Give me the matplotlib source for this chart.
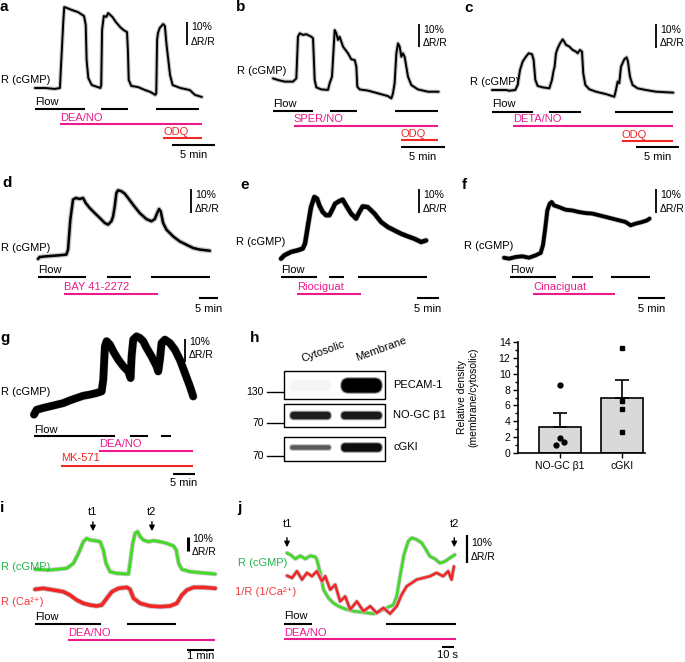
import matplotlib.pyplot as plt
from matplotlib.patches import Rectangle, FancyBboxPatch
import numpy as np

W, H = 685, 662
PINK = '#ec1a8d'
RED = '#f22626'
GREEN = '#3fdc22'
GREEN_TEXT = '#24b34b'
RED_TEXT = '#f03c3c'
HALO = '#c4c4c4'

plt.rcParams['font.family'] = ['Liberation Sans', 'DejaVu Sans']
plt.rcParams['font.size'] = 8

# ---- traces (time in min, j in s; signal in % dR/R) ----
a_t = [0, 1.2, 2.3, 2.9, 3.0, 3.3, 3.4, 3.7, 4.3, 5.0, 5.7, 5.9, 6.0, 6.2, 6.6, 7.6, 7.7, 7.8, 8.0, 8.3,
       8.5, 9.0, 9.4, 9.9, 10.3, 10.7, 10.8, 10.9, 11.2, 12.0, 12.8, 13.4, 14.0, 14.1, 14.2, 14.3, 14.5,
       14.9, 15.1, 15.3, 15.7, 16.0, 16.9, 17.4, 18.0, 18.6, 19.4]
a_v = [0, 0, -0.4, 0, 7.8, 29.6, 35.2, 34.8, 33.9, 33.0, 31.3, 27.4, 12.2, 4.3, 1.3, 0, 1.3, 25.2, 31.3,
       30.9, 32.6, 30.9, 28.7, 26.5, 25.2, 24.3, 16.5, 3.5, 0.9, 0.4, -0.9, -1.7, -3.0, -2.2, 20.9, 23.9,
       26.1, 27.8, 27.0, 18.7, 5.7, 1.3, 0, -0.4, -0.9, -3.0, -3.9]
a_flow = [(0, 5.8), (7.7, 10.8), (14.1, 19.1)]
a_deano = (2.9, 19.4)
a_odq = (14.9, 19.4)

b_t = [0, 0.57, 1.34, 2.30, 2.68, 2.87, 3.07, 3.45, 3.83, 4.41, 4.60, 4.79, 4.98, 5.56, 6.32, 6.51, 6.78,
       7.09, 7.28, 7.47, 7.66, 8.05, 8.62, 9.00, 9.39, 9.58, 9.69, 9.96, 10.92, 12.07, 13.22, 13.60, 13.79,
       13.98, 14.18, 14.37, 14.56, 14.75, 14.94, 15.13, 15.52, 15.90, 16.67, 17.82, 19.04]
b_v = [0.7, 0, -0.7, -0.7, 0.7, 18.8, 20.3, 19.6, 19.9, 18.8, 18.1, 0, -3.2, -4.1, -4.3, -1.4, 1.4, 21.7,
       20.3, 17.4, 18.8, 14.5, 11.6, 9.0, 8.7, 5.8, -2.9, -4.1, -4.6, -5.8, -7.0, -8.0, -5.8, -1.4, 11.6,
       15.9, 14.5, 10.1, 11.6, 10.1, 1.4, -2.2, -4.1, -5.1, -5.1]
b_flow = [(0, 4.6), (6.5, 9.6), (14.0, 19.0)]
b_sperno = (2.38, 19.0)
b_odq = (14.7, 19.0)

c_t = [0, 1.64, 2.03, 2.73, 3.01, 3.28, 3.59, 3.98, 4.30, 4.69, 4.88, 5.08, 5.35, 5.94, 6.72, 7.03, 7.19,
       7.34, 7.50, 7.70, 7.97, 8.28, 8.48, 8.67, 9.06, 9.45, 9.84, 10.04, 10.31, 10.55, 10.70, 10.94, 11.41,
       12.19, 13.36, 14.34, 14.53, 14.73, 14.92, 15.12, 15.51, 15.78, 15.94, 16.17, 16.48, 17.07, 18.05,
       19.22, 21.25]
c_v = [0, 0, -0.3, 0, 2.1, 8.3, 11.8, 13.9, 15.3, 14.9, 12.5, 4.2, 1.7, 1.1, 0.7, 4.2, 7.6, 9.7, 15.3, 17.4,
       19.4, 21.1, 20.1, 18.8, 18.1, 16.7, 16.0, 15.3, 16.7, 16.0, 6.9, 2.1, 0.3, -0.7, -1.7, -2.8, 0, 3.5,
       2.8, 9.7, 12.8, 13.6, 11.8, 5.6, 2.1, 0.7, 0, -0.7, -1.1]
c_flow = [(0, 4.84), (6.72, 10.43), (14.45, 21.25)]
c_detano = (2.5, 21.25)
c_odq = (15.23, 21.25)

d_t = [0, 0.43, 2.16, 4.74, 7.33, 7.76, 8.36, 9.05, 9.74, 10.78, 11.64, 12.33, 13.36, 14.66, 15.95, 17.24,
       18.10, 18.97, 19.40, 19.83, 20.26, 20.69, 21.55, 22.41, 23.28, 24.57, 26.29, 28.02, 29.31, 30.17,
       30.78, 31.29, 31.72, 32.33, 33.19, 34.91, 36.64, 38.36, 40.09, 41.81, 44.40]
d_v = [-0.8, 0, 0.3, 0.6, 1.0, 3.1, 15.6, 23.9, 24.6, 24.2, 24.6, 22.5, 20.4, 18.3, 16.3, 14.2, 13.5, 14.9,
       16.9, 21.1, 26.7, 27.8, 27.4, 26.4, 24.6, 21.8, 18.3, 15.8, 14.9, 15.8, 18.3, 20.0, 19.0, 14.2, 11.4,
       8.6, 6.5, 5.1, 3.75, 3.1, 2.6]
d_flow = [(0, 12.33), (17.84, 23.97), (29.31, 44.57)]
d_bay = (6.64, 31.03)

e_t = [0, 0.78, 2.34, 3.91, 5.08, 5.63, 6.25, 7.03, 7.81, 8.44, 8.98, 9.77, 10.55, 11.33, 12.11, 12.66,
       13.67, 14.45, 15.23, 16.41, 17.58, 18.36, 19.14, 20.31, 21.88, 23.44, 25.0, 26.56, 28.13, 29.69,
       31.25, 32.81, 33.98]
e_v = [-0.7, 0.7, 2.1, 2.8, 3.5, 5.6, 12.5, 20.8, 25.0, 24.3, 21.5, 18.75, 17.4, 17.4, 20.1, 22.2, 23.3,
       23.9, 21.5, 18.1, 16.0, 18.75, 21.1, 20.8, 18.1, 14.6, 12.5, 11.1, 9.7, 8.6, 7.6, 6.25, 6.9]
e_flow = [(0, 8.44), (11.33, 14.84), (17.97, 34.14)]
e_rio = (3.75, 18.75)

f_t = [0, 0.94, 2.19, 3.44, 4.69, 5.94, 6.88, 7.31, 7.69, 8.13, 8.56, 8.94, 9.38, 10.31, 11.56, 12.81,
       14.06, 15.31, 16.56, 17.81, 19.06, 20.31, 21.56, 22.81, 23.75, 24.69, 25.94, 26.88, 27.31]
f_v = [-0.3, -0.7, 0, 0.3, -0.3, 0.7, 1.7, 4.9, 11.1, 19.4, 22.2, 22.9, 21.5, 20.8, 19.7, 19.4, 18.75,
       18.3, 18.1, 17.4, 16.7, 16.0, 15.3, 14.6, 13.2, 13.9, 14.6, 15.3, 16.0]
f_flow = [(1.06, 9.81), (12.81, 16.75), (20.0, 27.38)]
f_cina = (5.44, 20.75)

g_t = [0, 0.62, 2.15, 3.69, 5.23, 6.77, 8.31, 9.85, 11.38, 12.92, 14.46, 15.62, 16.0, 16.38, 16.77, 17.54,
       18.31, 19.46, 20.62, 21.77, 22.31, 22.54, 22.92, 23.69, 24.46, 25.23, 26.0, 27.15, 28.31, 28.69,
       29.08, 29.46, 30.23, 31.38, 32.54, 33.69, 34.85, 36.0, 36.77]
g_v = [-0.7, 1.4, 2.2, 2.9, 3.6, 4.3, 5.5, 6.5, 7.5, 8.0, 8.7, 9.4, 14.5, 29.0, 31.2, 29.7, 26.8, 23.2,
       20.3, 18.1, 15.2, 24.6, 31.9, 33.3, 32.6, 31.2, 28.3, 24.6, 20.3, 18.1, 23.2, 30.4, 31.9, 30.4,
       27.5, 23.2, 17.4, 11.6, 7.2]
g_flow = [(0, 18.69), (22.15, 26.38), (29.23, 31.54)]
g_deano = (15.08, 36.77)
g_mk = (6.15, 36.77)

i_gt = [0, 0.56, 1.19, 1.44, 1.63, 1.81, 1.94, 2.06, 2.25, 2.44, 2.56, 2.66, 2.81, 3.06, 3.5, 3.56, 3.66,
        3.75, 3.84, 3.94, 4.06, 4.25, 4.44, 4.69, 4.94, 5.19, 5.29, 5.38, 5.5, 5.81, 6.19, 6.75]
i_gv = [0.5, 0, 1.2, 4.8, 11.9, 20.2, 22.6, 21.4, 21.0, 20.2, 14.3, 4.8, -1.2, -2.4, -2.9, 4.8, 19.0, 26.2,
        27.4, 23.8, 21.4, 20.2, 21.0, 20.2, 19.0, 17.1, 14.3, 4.8, 0.5, -1.2, -1.9, -2.9]
i_rt = [0, 0.31, 0.69, 1.06, 1.31, 1.56, 1.81, 2.06, 2.31, 2.5, 2.69, 2.88, 3.13, 3.44, 3.56, 3.69, 3.94,
        4.31, 4.69, 5.06, 5.31, 5.5, 5.69, 5.94, 6.31, 6.75]
i_rv = [-13.8, -13.1, -14.3, -15.5, -17.9, -21.4, -23.8, -25.0, -25.7, -25.0, -20.2, -15.5, -13.1, -12.4,
        -13.8, -20.2, -23.8, -25.7, -26.2, -25.7, -23.8, -17.9, -14.3, -12.4, -12.4, -13.1]
i_flow = [(0, 2.46), (3.46, 5.29)]
i_deano = (1.25, 6.75)
i_marks = [2.17, 4.38]

j_gt = [0, 2.7, 6.8, 10.8, 14.9, 18.9, 23.0, 24.3, 27.0, 29.7, 33.8, 37.8, 41.9, 47.3, 54.1, 62.2, 70.3,
        75.7, 81.1, 86.5, 89.2, 91.9, 95.1, 98.6, 101.4, 105.4, 109.5, 112.2, 116.2, 120.3, 124.3, 128.4,
        132.4, 136.5]
j_gv = [0, -0.6, -2.1, -1.0, -2.1, -1.0, -1.4, -2.4, -7.1, -13.1, -16.1, -17.9, -19.0, -20.0, -20.8, -21.2,
        -21.7, -20.8, -19.6, -18.5, -15.5, -8.3, -0.6, 4.2, 5.4, 4.8, 3.6, 1.8, -1.2, -2.1, -3.6, -3.0,
        -1.8, -0.6]
j_rt = [0, 4.1, 8.1, 12.2, 16.2, 20.3, 24.3, 28.4, 31.1, 35.1, 39.2, 43.2, 47.3, 51.4, 56.8, 62.2, 67.6,
        73.0, 78.4, 83.8, 89.2, 93.2, 97.3, 101.4, 105.4, 110.8, 116.2, 121.6, 127.0, 131.1, 133.8, 135.7]
j_rv = [-8.1, -8.9, -6.5, -9.5, -7.1, -8.3, -6.5, -10.1, -8.3, -13.1, -11.3, -17.3, -15.5, -20.2, -17.3,
        -20.8, -19.0, -21.4, -19.6, -21.7, -19.0, -14.9, -11.9, -10.7, -9.5, -8.9, -8.3, -7.1, -8.3, -6.5,
        -9.5, -4.8]
j_flow = [(-2.2, 20.3), (80.5, 137.3)]
j_deano = (-2.2, 137.3)
j_marks = [0, 136]

# ---- blot and densitometry ----
blot_lanes = ['Cytosolic', 'Membrane']
blot_proteins = ['PECAM-1', 'NO-GC β1', 'cGKI']
blot_markers = ['130', '70', '70']
blot_intensity = [[0.04, 1.0], [0.88, 0.9], [0.65, 0.95]]
dens_labels = ['NO-GC β1', 'cGKI']
dens_nogc = [8.6, 1.9, 1.4, 1.0]
dens_cgki = [13.2, 6.6, 5.5, 2.6]

fig = plt.figure(figsize=(W / 100, H / 100), dpi=100)


def ftext(x, y, s, **kw):
    kw.setdefault('va', 'center')
    kw.setdefault('ha', 'left')
    fig.text(x / W, 1 - y / H, s, **kw)


def trace_axes(letter, lx, ly, x0, y0, ppx, ppy):
    # full-figure axes; data origin at pixel (x0, y0), ppx px per time unit, ppy px per %
    ftext(lx, ly, letter, fontsize=11, fontweight='bold')
    ax = fig.add_axes([0, 0, 1, 1])
    ax.set_xlim(-x0 / ppx, (W - x0) / ppx)
    ax.set_ylim(-(H - y0) / ppy, y0 / ppy)
    ax.axis('off')
    return ax


def row(ax, y):
    lo, hi = ax.get_ylim()
    return hi - y / H * (hi - lo)


def col(ax, x):
    lo, hi = ax.get_xlim()
    return lo + x / W * (hi - lo)


def plot_trace(ax, t, v, color='k', lw=1.4, halo=3.0):
    ax.plot(t, v, color=HALO, lw=halo, solid_joinstyle='round', solid_capstyle='round')
    ax.plot(t, v, color=color, lw=lw, solid_joinstyle='round', solid_capstyle='round')


def spans(ax, y, segs, color='k', label=None, ly=None):
    yy = row(ax, y)
    for s, e in segs:
        ax.plot([s, e], [yy, yy], color=color, lw=1.5, solid_capstyle='butt')
    if label:
        ax.text(segs[0][0], row(ax, ly), label, color=color, ha='left', va='center')


def vscale(ax, x, yb, ty1, ty2, lw=1.3):
    xx = col(ax, x)
    y0 = row(ax, yb)
    ax.plot([xx, xx], [y0, y0 + 10], color='k', lw=lw, solid_capstyle='butt')
    ftext(x + 4, ty1, '10%', fontsize=7.5)
    ftext(x + 4, ty2, 'ΔR/R', fontsize=7.5)


def hscale(ax, t0, length, y, label, ty):
    yy = row(ax, y)
    ax.plot([t0, t0 + length], [yy, yy], color='k', lw=1.5, solid_capstyle='butt')
    ax.text(t0 + length / 2, row(ax, ty), label, ha='center', va='center')


# a
ax = trace_axes('a', 0, 7, 35, 88, 8.6, 2.3)
plot_trace(ax, a_t, a_v)
ftext(1, 80, 'R (cGMP)')
vscale(ax, 187, 45, 27, 42)
spans(ax, 109, a_flow, label='Flow', ly=102)
spans(ax, 124, [a_deano], PINK, 'DEA/NO', 118)
spans(ax, 138, [a_odq], RED, 'ODQ', 132)
hscale(ax, 15.9, 5, 145, '5 min', 155)

# b
ax = trace_axes('b', 236, 7, 273, 80, 8.7, 2.3)
plot_trace(ax, b_t, b_v)
ftext(286, 71, 'R (cGMP)', ha='right')
vscale(ax, 419, 47, 30, 43)
spans(ax, 111, b_flow, label='Flow', ly=104)
spans(ax, 126, [b_sperno], PINK, 'SPER/NO', 119)
spans(ax, 140, [b_odq], RED, 'ODQ', 134)
hscale(ax, 14.75, 5, 147, '5 min', 157)

# c
ax = trace_axes('c', 464, 8, 492, 90, 8.53, 2.4)
plot_trace(ax, c_t, c_v)
ftext(519, 82, 'R (cGMP)', ha='right')
vscale(ax, 656, 48, 30, 43)
spans(ax, 112, c_flow, label='Flow', ly=104)
spans(ax, 126, [c_detano], PINK, 'DETA/NO', 119)
spans(ax, 141, [c_odq], RED, 'ODQ', 135)
hscale(ax, 16.88, 5, 147, '5 min', 157)

# d
ax = trace_axes('d', 2, 183, 38, 257, 3.87, 2.4)
plot_trace(ax, d_t, d_v, lw=1.8, halo=3.6)
ftext(1, 248, 'R (cGMP)')
vscale(ax, 191, 213, 195, 209)
spans(ax, 277, d_flow, label='Flow', ly=270)
spans(ax, 294, [d_bay], PINK, 'BAY 41-2272', 287)
hscale(ax, 41.6, 5, 298, '5 min', 309)

# e
ax = trace_axes('e', 240, 185, 281, 257, 4.27, 2.4)
plot_trace(ax, e_t, e_v, lw=3.2, halo=4.2)
ftext(285, 242, 'R (cGMP)', ha='right')
vscale(ax, 419, 213, 195, 209)
spans(ax, 277, e_flow, label='Flow', ly=270)
spans(ax, 294, [e_rio], PINK, 'Riociguat', 287)
hscale(ax, 31.9, 5, 298, '5 min', 309)

# f
ax = trace_axes('f', 462, 185, 504, 257, 5.33, 2.4)
plot_trace(ax, f_t, f_v, lw=2.8, halo=3.8)
ftext(513, 246, 'R (cGMP)', ha='right')
vscale(ax, 656, 213, 195, 209)
spans(ax, 277, f_flow, label='Flow', ly=270)
spans(ax, 294, [f_cina], PINK, 'Cinaciguat', 287)
hscale(ax, 25.2, 5, 298, '5 min', 309)

# g
ax = trace_axes('g', 0, 338, 34, 413, 4.33, 2.3)
plot_trace(ax, g_t, g_v, lw=5.5, halo=6.2)
ftext(1, 392, 'R (cGMP)')
vscale(ax, 185, 362, 342, 355)
spans(ax, 436, g_flow, label='Flow', ly=430)
spans(ax, 451, [g_deano], PINK, 'DEA/NO', 444)
spans(ax, 466, [g_mk], RED, 'MK-571', 458)
hscale(ax, 32.1, 5, 474, '5 min', 483)

# i
ax = trace_axes('i', 0, 508, 35, 570, 26.7, 1.4)
plot_trace(ax, i_gt, i_gv, GREEN, lw=2.0, halo=3.2)
plot_trace(ax, i_rt, i_rv, RED, lw=2.6, halo=3.8)
ftext(1, 567, 'R (cGMP)', color=GREEN_TEXT)
ftext(1, 602, 'R (Ca²⁺)', color=RED_TEXT)
vscale(ax, 188, 551, 539, 552, lw=2.2)
for t, name in zip(i_marks, ['t1', 't2']):
    ax.annotate('', xy=(t, row(ax, 534)), xytext=(t, row(ax, 519)),
                arrowprops=dict(arrowstyle='-|>', color='k', lw=1, mutation_scale=8))
    ax.text(t, row(ax, 512), name, ha='center', va='center')
spans(ax, 624, i_flow, label='Flow', ly=617)
spans(ax, 640, [i_deano], PINK, 'DEA/NO', 633)
hscale(ax, 5.69, 1, 650, '1 min', 656)

# j
ax = trace_axes('j', 237, 508, 287, 553, 1.23, 2.8)
plot_trace(ax, j_gt, j_gv, GREEN, lw=1.8, halo=3.0)
plot_trace(ax, j_rt, j_rv, RED, lw=1.8, halo=3.0)
ftext(287, 563, 'R (cGMP)', ha='right', color=GREEN_TEXT)
ftext(296, 592, '1/R (1/Ca²⁺)', ha='right', color=RED_TEXT)
vscale(ax, 467, 563, 543, 557, lw=1.6)
for t, name in zip(j_marks, ['t1', 't2']):
    ax.annotate('', xy=(t, row(ax, 550)), xytext=(t, row(ax, 535)),
                arrowprops=dict(arrowstyle='-|>', color='k', lw=1, mutation_scale=8))
    ax.text(t, row(ax, 524), name, ha='center', va='center')
spans(ax, 624, j_flow, label='Flow', ly=616)
spans(ax, 639, [j_deano], PINK, 'DEA/NO', 633)
hscale(ax, 125.7, 10, 647, '10 s', 655)

# h: western blot (pixel-space axes)
ftext(250, 338, 'h', fontsize=11, fontweight='bold')
bx = fig.add_axes([0, 0, 1, 1])
bx.set_xlim(0, W)
bx.set_ylim(H, 0)
bx.axis('off')
box_top = [371, 404, 437]
box_h = [28, 23, 24]
band_y = [385.5, 415.5, 447.5]
band_h = [[9, 14], [7, 7], [4, 8]]
lane_x = [310.5, 361.5]
for k, prot in enumerate(blot_proteins):
    bx.add_patch(Rectangle((284, box_top[k]), 101, box_h[k], fc='white', ec='k', lw=1))
    for m in range(2):
        g = 1 - blot_intensity[k][m]
        bh = band_h[k][m]
        for grow, alpha in [(3, 0.25), (1.5, 0.5), (0, 1.0)]:
            bx.add_patch(FancyBboxPatch((lane_x[m] - 20 - grow / 2, band_y[k] - bh / 2 - grow / 2),
                                        40 + grow, bh + grow,
                                        boxstyle='round,pad=0,rounding_size=%.1f' % ((bh + grow) / 2),
                                        fc=(g, g, g), ec='none', alpha=alpha))
    ftext(393, band_y[k] + (-1 if k < 2 else 0), prot)
marker_y = [392, 423, 456]
for k, lab in enumerate(blot_markers):
    bx.plot([267, 283], [marker_y[k]] * 2, color='k', lw=1)
    ftext(264, marker_y[k], lab, ha='right', fontsize=7.5)
ftext(323, 352, blot_lanes[0], ha='center', rotation=20)
ftext(381, 349, blot_lanes[1], ha='center', rotation=20)

# h: densitometry
cax = fig.add_axes([518 / W, 1 - 453 / H, (645 - 518) / W, (453 - 342) / H])
pts = [dens_nogc, dens_cgki]
means = [np.mean(p) for p in pts]
sems = [np.std(p, ddof=1) / np.sqrt(len(p)) for p in pts]
cax.bar([0, 1], means, width=0.68, color='#d9d9d9', edgecolor='k', lw=1.2, zorder=1)
cax.errorbar([0, 1], means, yerr=[[0, 0], sems], fmt='none', ecolor='k', elinewidth=1.2,
             capsize=5, capthick=1.2, zorder=2)
cax.plot([0, 0, 0.06, -0.06], dens_nogc, 'o', color='k', ms=3.5, zorder=3)
cax.plot([1, 1, 1, 1], dens_cgki, 's', color='k', ms=3.5, zorder=3)
cax.set_xlim(-0.68, 1.37)
cax.set_ylim(0, 14)
cax.set_yticks(range(0, 15, 2))
cax.set_yticks(range(1, 14, 2), minor=True)
cax.set_xticks([0, 1])
cax.set_xticklabels(dens_labels)
for s in ['top', 'right']:
    cax.spines[s].set_visible(False)
for s in ['left', 'bottom']:
    cax.spines[s].set_linewidth(1.2)
cax.tick_params(labelsize=7.5, length=3.5, width=1, pad=2)
cax.tick_params(which='minor', length=2, width=1)
cax.set_ylabel('Relative density\n(membrane/cytosolic)', fontsize=7.5, linespacing=1.1)
cax.yaxis.set_label_coords((478 - 518) / 127, 0.5)

fig.savefig('out.png', dpi=100)
